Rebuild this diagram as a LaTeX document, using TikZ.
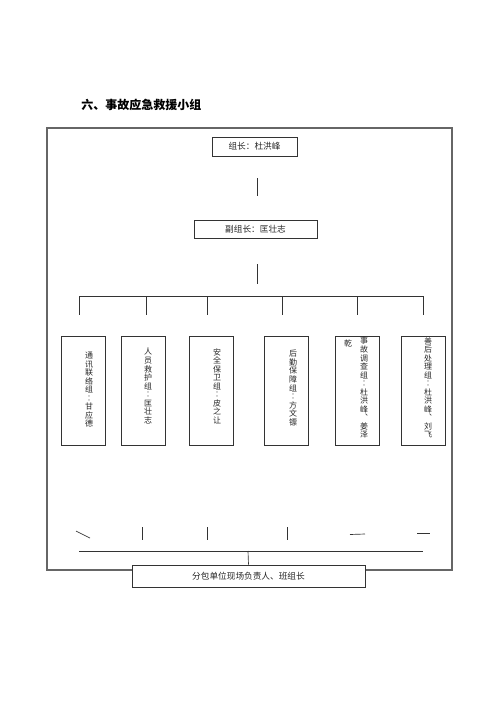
\documentclass[tikz,border=0pt]{standalone}
\usepackage{fontspec}
\setmainfont{Noto Sans CJK SC}
\begin{document}
\begin{tikzpicture}[x=0.75pt,y=-0.75pt,
  ln/.style={draw=black!80,line width=0.5pt},
  frame/.style={draw=black!60,line width=0.9pt},
  box/.style={draw=black!80,line width=0.55pt,inner sep=0pt},
  gbox/.style={box,minimum width=33pt,minimum height=81.75pt},
  htxt/.style={font=\fontsize{6.5}{7}\selectfont,text=black!85},
  vtxt/.style={anchor=north,inner sep=0pt,align=center,font=\fontsize{6}{6.4}\selectfont,text=black!85}]
\useasboundingbox (0,0) rectangle (500,708);
% title
\node[anchor=west,inner sep=0pt,font=\fontsize{9}{10}\selectfont\bfseries] (title) at (81,105) {六、事故应急救援小组};
% frame
\draw[frame] (47,128) rectangle (452,570);
% leader boxes
\node[box,minimum width=63.75pt,minimum height=14.25pt,htxt] (lead) at (254.5,146.5) {组长：杜洪峰};
\node[box,minimum width=92.25pt,minimum height=13.5pt,htxt] (dep) at (255.5,229) {副组长：匡壮志};
\coordinate (l1a) at (257,178); \coordinate (l1b) at (257,196);
\coordinate (l2a) at (257,264); \coordinate (l2b) at (257,284);
\draw[ln] (l1a) -- (l1b);
\draw[ln] (l2a) -- (l2b);
% top bus
\coordinate (busL) at (79,296); \coordinate (busR) at (423,296);
\draw[ln] (busL) -- (busR);
\foreach \x/\n in {79/a,146/b,207/c,282/d,357/e,423/f}{
  \coordinate (t\n) at (\x,296); \coordinate (d\n) at (\x,315);
  \draw[ln] (t\n) -- (d\n);
}
% group boxes
\node[gbox] (g1) at (83,390.5) {};
\node[gbox] (g2) at (143.5,390.5) {};
\node[gbox] (g3) at (211,390.5) {};
\node[gbox] (g4) at (286.5,390.5) {};
\node[gbox] (g5) at (357.5,390.5) {};
\node[gbox] (g6) at (423.5,390.5) {};
% vertical texts
\node[vtxt] (v1) at (89,352) {通\\讯\\联\\络\\组\\︰\\甘\\应\\德};
\node[vtxt] (v2) at (148,348) {人\\员\\救\\护\\组\\︰\\匡\\壮\\志};
\node[vtxt] (v3) at (217,348) {安\\全\\保\\卫\\组\\︰\\皮\\之\\让};
\node[vtxt] (v4) at (293,350) {后\\勤\\保\\障\\组\\︰\\方\\文\\镖};
\node[vtxt] (v5) at (364,337) {事\\故\\调\\查\\组\\︰\\杜\\洪\\峰\\︑\\姜\\泽};
\node[vtxt] (v5b) at (348,340) {乾};
\node[vtxt] (v6) at (428,337) {善\\后\\处\\理\\组\\︰\\杜\\洪\\峰\\︑\\刘\\飞};
% bottom fragments
\coordinate (f1a) at (76,531); \coordinate (f1b) at (90,538);
\coordinate (f2a) at (142,527); \coordinate (f2b) at (142,540);
\coordinate (f3a) at (207,527); \coordinate (f3b) at (207,540);
\coordinate (f4a) at (287,527); \coordinate (f4b) at (287,540);
\coordinate (f5a) at (350,534.5); \coordinate (f5b) at (365,534);
\coordinate (f6a) at (417,533); \coordinate (f6b) at (430,533);
\foreach \n in {1,...,6}{ \draw[ln] (f\n a) -- (f\n b); }
% bottom bus
\coordinate (bL) at (79,551); \coordinate (bR) at (423,551);
\draw[ln] (bL) -- (bR);
\node[box,minimum width=174.75pt,minimum height=16.5pt,htxt,fill=white] (sub) at (248.5,576) {分包单位现场负责人、班组长};
\coordinate (bm) at (248,551);
\draw[ln] (bm) -- (sub.north);
\end{tikzpicture}
\end{document}
